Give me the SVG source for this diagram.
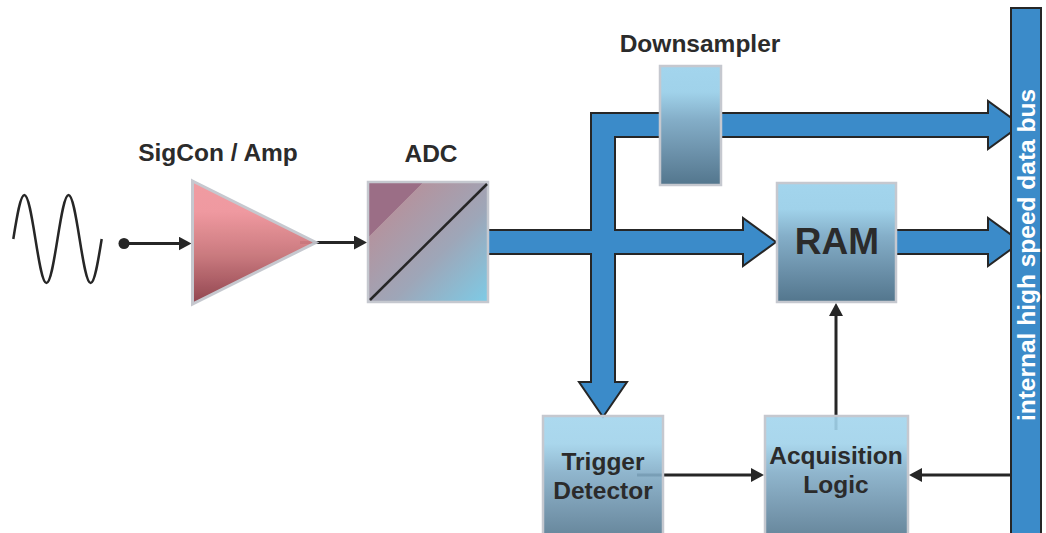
<svg xmlns="http://www.w3.org/2000/svg" width="1046" height="533" viewBox="0 0 1046 533">
<style>
.lbl{font-family:"Liberation Sans",Arial,sans-serif;font-weight:bold;font-size:24.5px;fill:#2b2b2b;text-anchor:middle}
.box{stroke:#c5c8cf;stroke-width:2.5;fill:url(#blueGrad)}
.bus{fill:#3b8bc9;stroke:#262626;stroke-width:2;stroke-linejoin:miter}
.wire{fill:none;stroke:#262626;stroke-width:3}
</style>
<defs>
<linearGradient id="blueGrad" x1="0" y1="0" x2="0" y2="1">
<stop offset="0" stop-color="#a3d5ed"/>
<stop offset="0.22" stop-color="#a0d2ea"/>
<stop offset="0.45" stop-color="#84aec8"/>
<stop offset="0.75" stop-color="#6a8fa8"/>
<stop offset="1" stop-color="#53768d"/>
</linearGradient>
<linearGradient id="ampGrad" x1="0" y1="0" x2="0" y2="1">
<stop offset="0" stop-color="#f0979e"/>
<stop offset="0.25" stop-color="#ef949b"/>
<stop offset="0.6" stop-color="#c87479"/>
<stop offset="1" stop-color="#8b3b46"/>
</linearGradient>
<linearGradient id="adcGrad" gradientUnits="userSpaceOnUse" x1="368" y1="182" x2="488" y2="302">
<stop offset="0" stop-color="#9b6e86"/>
<stop offset="0.229" stop-color="#9b6e86"/>
<stop offset="0.231" stop-color="#b3949f"/>
<stop offset="0.6" stop-color="#9ea6b8"/>
<stop offset="1" stop-color="#7dcbe6"/>
</linearGradient>
<marker id="ah" markerUnits="userSpaceOnUse" markerWidth="14" markerHeight="14" refX="3" refY="7" orient="auto">
<path d="M0,0 L13,7 L0,14 z" fill="#262626"/>
</marker>
</defs>

<g id="connectors">
<path class="bus" d="M486,230 H591 V113 H988 V101 L1021,125 L988,149 V137 H615 V230 H743 V218 L776,242 L743,266 V254 H615 V382 H627 L603,417 L579,382 H591 V254 H486"/>
<path class="bus" d="M896,230 H988 V218 L1021,242 L988,266 V254 H896"/>
<line class="wire" x1="124" y1="243.5" x2="181.5" y2="243.5" marker-end="url(#ah)"/>
<line class="wire" x1="300" y1="242.5" x2="357" y2="242.5" marker-end="url(#ah)"/>
<line class="wire" x1="637" y1="475" x2="754" y2="475" marker-end="url(#ah)"/>
<line class="wire" x1="1011" y1="475" x2="919" y2="475" marker-end="url(#ah)"/>
<line class="wire" x1="836" y1="430" x2="836" y2="313" marker-end="url(#ah)"/>
</g>

<g id="signal">
<path d="M13.3,239 c3.6,-22.54 7.05,-44 11.05,-44 c4,0 7.45,21.46 11.05,44 c3.6,22.54 7.05,44 11.05,44 c4,0 7.45,-21.46 11.05,-44 c3.6,-22.54 7.05,-44 11.05,-44 c4,0 7.45,21.46 11.05,44 c3.6,22.54 7.05,44 11.05,44 c4,0 7.45,-21.46 11.05,-44" fill="none" stroke="#262626" stroke-width="2.5"/>
<circle cx="124" cy="243.5" r="5.5" fill="#262626"/>
</g>

<g id="amp">
<polygon points="192.5,181 316,242.5 192.5,304" fill="url(#ampGrad)" stroke="#c3c6cd" stroke-width="3" opacity="0.95"/>
<text class="lbl" x="218" y="161">SigCon / Amp</text>
</g>

<g id="adc">
<rect x="368" y="182" width="120" height="120" fill="url(#adcGrad)" stroke="#c5c8cf" stroke-width="2.5"/>
<line x1="370" y1="300" x2="487" y2="184" stroke="#262626" stroke-width="2.5"/>
<text class="lbl" x="431" y="162">ADC</text>
</g>

<g id="downsampler">
<rect class="box" x="660" y="66" width="61" height="119"/>
<text class="lbl" x="700" y="51.5">Downsampler</text>
</g>

<g id="ram">
<rect class="box" x="777" y="183" width="119" height="119"/>
<text class="lbl" x="837" y="254" style="font-size:37px">RAM</text>
</g>

<g id="trigger">
<rect class="box" x="543" y="416" width="120" height="125" fill-opacity="0.9"/>
<text class="lbl" x="603" y="469.5">Trigger</text>
<text class="lbl" x="603" y="498.5">Detector</text>
</g>

<g id="acquisition">
<rect class="box" x="765" y="416" width="143" height="125" fill-opacity="0.9"/>
<text class="lbl" x="836" y="464">Acquisition</text>
<text class="lbl" x="836" y="492.5">Logic</text>
</g>

<g id="databus">
<rect class="bus" x="1011" y="8" width="30" height="540"/>
<text class="lbl" transform="rotate(-90)" x="-255" y="1035" style="fill:#ffffff">internal high speed data bus</text>
</g>
</svg>
